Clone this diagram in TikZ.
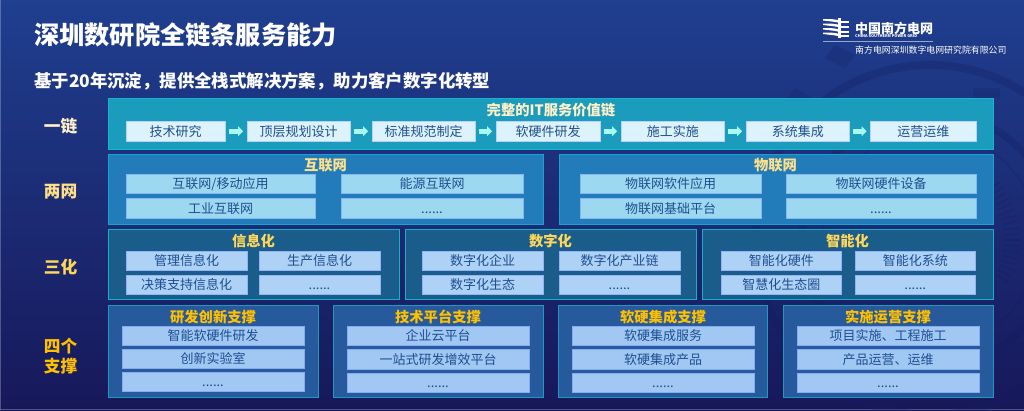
\documentclass[tikz,border=0pt]{standalone}
\usepackage{fontspec}
\setmainfont{Noto Sans CJK SC}
\usetikzlibrary{arrows.meta}
\definecolor{bgtop}{HTML}{1F3F8F}
\definecolor{bgbot}{HTML}{17185A}
\definecolor{decodark}{HTML}{141C5E}
\definecolor{chainpanel}{HTML}{1C9CBC}
\definecolor{chainbox}{HTML}{DDF3FB}
\definecolor{chainarrow}{HTML}{A6FAF0}
\definecolor{netpanel}{HTML}{237CBA}
\definecolor{netbox}{HTML}{9CD9F0}
\definecolor{triplepanel}{HTML}{1A5D8B}
\definecolor{triplebox}{HTML}{AED2F6}
\definecolor{fourpanel}{HTML}{265A9C}
\definecolor{fourbox}{HTML}{A0C8F3}
\definecolor{boxtext}{HTML}{1F4E90}
\definecolor{goldA}{HTML}{FFF0C8}
\definecolor{goldB}{HTML}{FFE08A}
\definecolor{goldC}{HTML}{FFD65A}
\definecolor{goldD}{HTML}{FFC000}
\newcommand{\bx}[7]{%
  \pgfmathsetmacro\bw{#5-#3}\pgfmathsetmacro\bh{#6-#4}%
  \node[#1,minimum width=\bw pt,minimum height=\bh pt,anchor=north west] (#2) at (#3,#4) {#7};}
\tikzset{
  x=1pt,y=-1pt,
  panel/.style={inner sep=0pt,outer sep=0pt,line width=.8pt},
  chainp/.style={panel,fill=chainpanel,draw=chainpanel!75!cyan},
  netp/.style={panel,fill=netpanel,draw=netpanel!70!cyan},
  triplep/.style={panel,fill=triplepanel,draw=chainpanel!80!cyan},
  fourp/.style={panel,fill=fourpanel,draw=chainpanel},
  item/.style={inner sep=0pt,outer sep=0pt,font=\fontsize{13}{13}\selectfont,text=boxtext,line width=.5pt,text height=11.4pt,text depth=1.6pt},
  chainb/.style={item,fill=chainbox,draw=chainbox!85!blue},
  netb/.style={item,fill=netbox,draw=netbox!85!blue},
  tripleb/.style={item,fill=triplebox,draw=triplebox!85!blue},
  fourb/.style={item,fill=fourbox,draw=fourbox!85!blue},
  head/.style={inner sep=0pt,font=\fontsize{14.3}{14.3}\selectfont\bfseries},
  rowlabel/.style={inner sep=0pt,font=\fontsize{16.7}{16.7}\selectfont\bfseries},
  link/.style={draw=chainarrow,line width=4.5pt,shorten >=4pt,shorten <=3.5pt,-{Triangle[length=5pt,width=10pt]}},
  deco/.style={draw=decodark,opacity=.28,line width=1.2pt},
  white text/.style={inner sep=0pt,text=white,anchor=west},
}
\begin{document}
\begin{tikzpicture}
\useasboundingbox (0,0) rectangle (1024,410);
\shade[top color=bgtop,bottom color=bgbot] (0,0) rectangle (1024,410);
\fill[white,opacity=.25] (0,0) rectangle (1,410);
\fill[white,opacity=.25] (0,409) rectangle (1024,410);
% faint background ring
\draw[deco,line width=8pt] (930,240) circle[radius=175];
\draw[deco,line width=7pt] (930,240) circle[radius=128];
\draw[deco] (930,240) circle[radius=108];
\foreach \a in {-40,-36,...,30}{\draw[deco,line width=1.5pt] (930,240) ++(\a:74) -- ++(\a:16);}
\fill[decodark,opacity=.22] (973,88) rectangle (1000,98);
\fill[decodark,opacity=.22] (795,88) -- (812,98) -- (802,112) -- (785,102) -- cycle;
\fill[decodark,opacity=.22] (835,45) -- (855,55) -- (845,69) -- (825,58) -- cycle;
% headline
\node[white text,font=\fontsize{25.2}{25.2}\selectfont\bfseries] (title) at (34,35) {深圳数研院全链条服务能力};
\node[white text,font=\fontsize{17.4}{17.4}\selectfont\bfseries] (subtitle) at (34,81) {基于20年沉淀，提供全栈式解决方案，助力客户数字化转型};
% logo
\foreach \yy in {20.5,25,29.5,34}{
  \fill[white] (823,\yy) .. controls (830,\yy+1) and (836,\yy+1) .. (841,\yy+3) -- (841,\yy+.5) .. controls (836,\yy-1.5) and (830,\yy-1.5) .. (823,\yy-1.5) -- cycle;}
\fill[white] (838,18) rectangle (841,38);
\foreach \yy in {21,26,30.5,35}{\fill[white] (841,\yy) rectangle (849,\yy+2.4);}
\node[white text,font=\fontsize{13}{13}\selectfont\bfseries] (logoa) at (855,28) {中国南方电网};
\node[white text,font=\fontsize{3.9}{4}\selectfont\bfseries] (logob) at (855,36.3) {CHINA SOUTHERN POWER GRID};
\fill[white,opacity=.55] (823,41) rectangle (933,41.7);
\node[white text,font=\fontsize{8.9}{9}\selectfont] (logoc) at (855,50) {南方电网深圳数字电网研究院有限公司};
% row labels
\node[rowlabel,text=goldA] (l1) at (60.5,126.5) {一链};
\node[rowlabel,text=goldB] (l2) at (60.5,191.5) {两网};
\node[rowlabel,text=goldC] (l3) at (60.5,267) {三化};
\node[rowlabel,text=goldD] (l4a) at (60.5,346) {四个};
\node[rowlabel,text=goldD] (l4b) at (60.5,366) {支撑};
% chain
\bx{chainp}{pchain}{108}{98.5}{993}{149}{}
\node[head,text=goldA] (hchain) at (551,110.5) {完整的IT服务价值链};
\bx{chainb}{c1}{126}{121.5}{225}{141}{技术研究}
\bx{chainb}{c2}{247}{121.5}{350}{141}{顶层规划设计}
\bx{chainb}{c3}{372}{121.5}{475}{141}{标准规范制定}
\bx{chainb}{c4}{496}{121.5}{600}{141}{软硬件研发}
\bx{chainb}{c5}{621}{121.5}{724.5}{141}{施工实施}
\bx{chainb}{c6}{746}{121.5}{849.5}{141}{系统集成}
\bx{chainb}{c7}{870.5}{121.5}{976}{141}{运营运维}
\draw[link] (c1) -- (c2);
\draw[link] (c2) -- (c3);
\draw[link] (c3) -- (c4);
\draw[link] (c4) -- (c5);
\draw[link] (c5) -- (c6);
\draw[link] (c6) -- (c7);
% two nets
\bx{netp}{pnetA}{108}{154}{543}{224}{}
\bx{netp}{pnetB}{559}{154}{993}{224}{}
\node[head,text=goldB] (hnetA) at (325.5,165.5) {互联网};
\node[head,text=goldB] (hnetB) at (775.5,165.5) {物联网};
\bx{netb}{n1}{126}{174}{315}{193}{互联网/移动应用}
\bx{netb}{n2}{341}{174}{523}{193}{能源互联网}
\bx{netb}{n3}{126}{198.5}{315}{218}{工业互联网}
\bx{netb}{n4}{341}{198.5}{523}{218}{......}
\bx{netb}{n5}{580}{174}{761}{193}{物联网软件应用}
\bx{netb}{n6}{786}{174}{976}{193}{物联网硬件设备}
\bx{netb}{n7}{580}{198.5}{761}{218}{物联网基础平台}
\bx{netb}{n8}{786}{198.5}{976}{218}{......}
% three -izations
\bx{triplep}{pthrA}{108}{229.5}{399}{299.5}{}
\bx{triplep}{pthrB}{405}{229.5}{696}{299.5}{}
\bx{triplep}{pthrC}{702.5}{229.5}{993}{299.5}{}
\node[head,text=goldC] (hthrA) at (253.5,241) {信息化};
\node[head,text=goldC] (hthrB) at (550.5,241) {数字化};
\node[head,text=goldC] (hthrC) at (847.5,241) {智能化};
\bx{tripleb}{t1}{126}{251}{247}{270.5}{管理信息化}
\bx{tripleb}{t2}{259}{251}{380}{270.5}{生产信息化}
\bx{tripleb}{t3}{126}{275}{247}{294}{决策支持信息化}
\bx{tripleb}{t4}{259}{275}{380}{294}{......}
\bx{tripleb}{t5}{422}{251}{543}{270.5}{数字化企业}
\bx{tripleb}{t6}{559}{251}{680}{270.5}{数字化产业链}
\bx{tripleb}{t7}{422}{275}{543}{294}{数字化生态}
\bx{tripleb}{t8}{559}{275}{680}{294}{......}
\bx{tripleb}{t9}{721}{251}{841.5}{270.5}{智能化硬件}
\bx{tripleb}{t10}{855}{251}{975.5}{270.5}{智能化系统}
\bx{tripleb}{t11}{721}{275}{841.5}{294}{智慧化生态圈}
\bx{tripleb}{t12}{855}{275}{975.5}{294}{......}
% four supports
\bx{fourp}{pfA}{108}{305}{318.5}{397.5}{}
\bx{fourp}{pfB}{333}{305}{543}{397.5}{}
\bx{fourp}{pfC}{558}{305}{767.5}{397.5}{}
\bx{fourp}{pfD}{783}{305}{993}{397.5}{}
\node[head,text=goldD] (hfA) at (213,317) {研发创新支撑};
\node[head,text=goldD] (hfB) at (438,317) {技术平台支撑};
\node[head,text=goldD] (hfC) at (663,317) {软硬集成支撑};
\node[head,text=goldD] (hfD) at (888,317) {实施运营支撑};
\bx{fourb}{f1}{122}{326.5}{304}{345.5}{智能软硬件研发}
\bx{fourb}{f2}{122}{349.5}{304}{368.5}{创新实验室}
\bx{fourb}{f3}{122}{372}{304}{391.5}{......}
\bx{fourb}{f4}{347}{326.5}{529}{345.5}{企业云平台}
\bx{fourb}{f5}{347}{349.5}{529}{369}{一站式研发增效平台}
\bx{fourb}{f6}{347}{373}{529}{392.5}{......}
\bx{fourb}{f7}{572}{326.5}{754}{345.5}{软硬集成服务}
\bx{fourb}{f8}{572}{349.5}{754}{369}{软硬集成产品}
\bx{fourb}{f9}{572}{373}{754}{392}{......}
\bx{fourb}{f10}{797}{326.5}{979}{345.5}{项目实施、工程施工}
\bx{fourb}{f11}{797}{349.5}{979}{369}{产品运营、运维}
\bx{fourb}{f12}{797}{373}{979}{392}{......}
\end{tikzpicture}
\end{document}
